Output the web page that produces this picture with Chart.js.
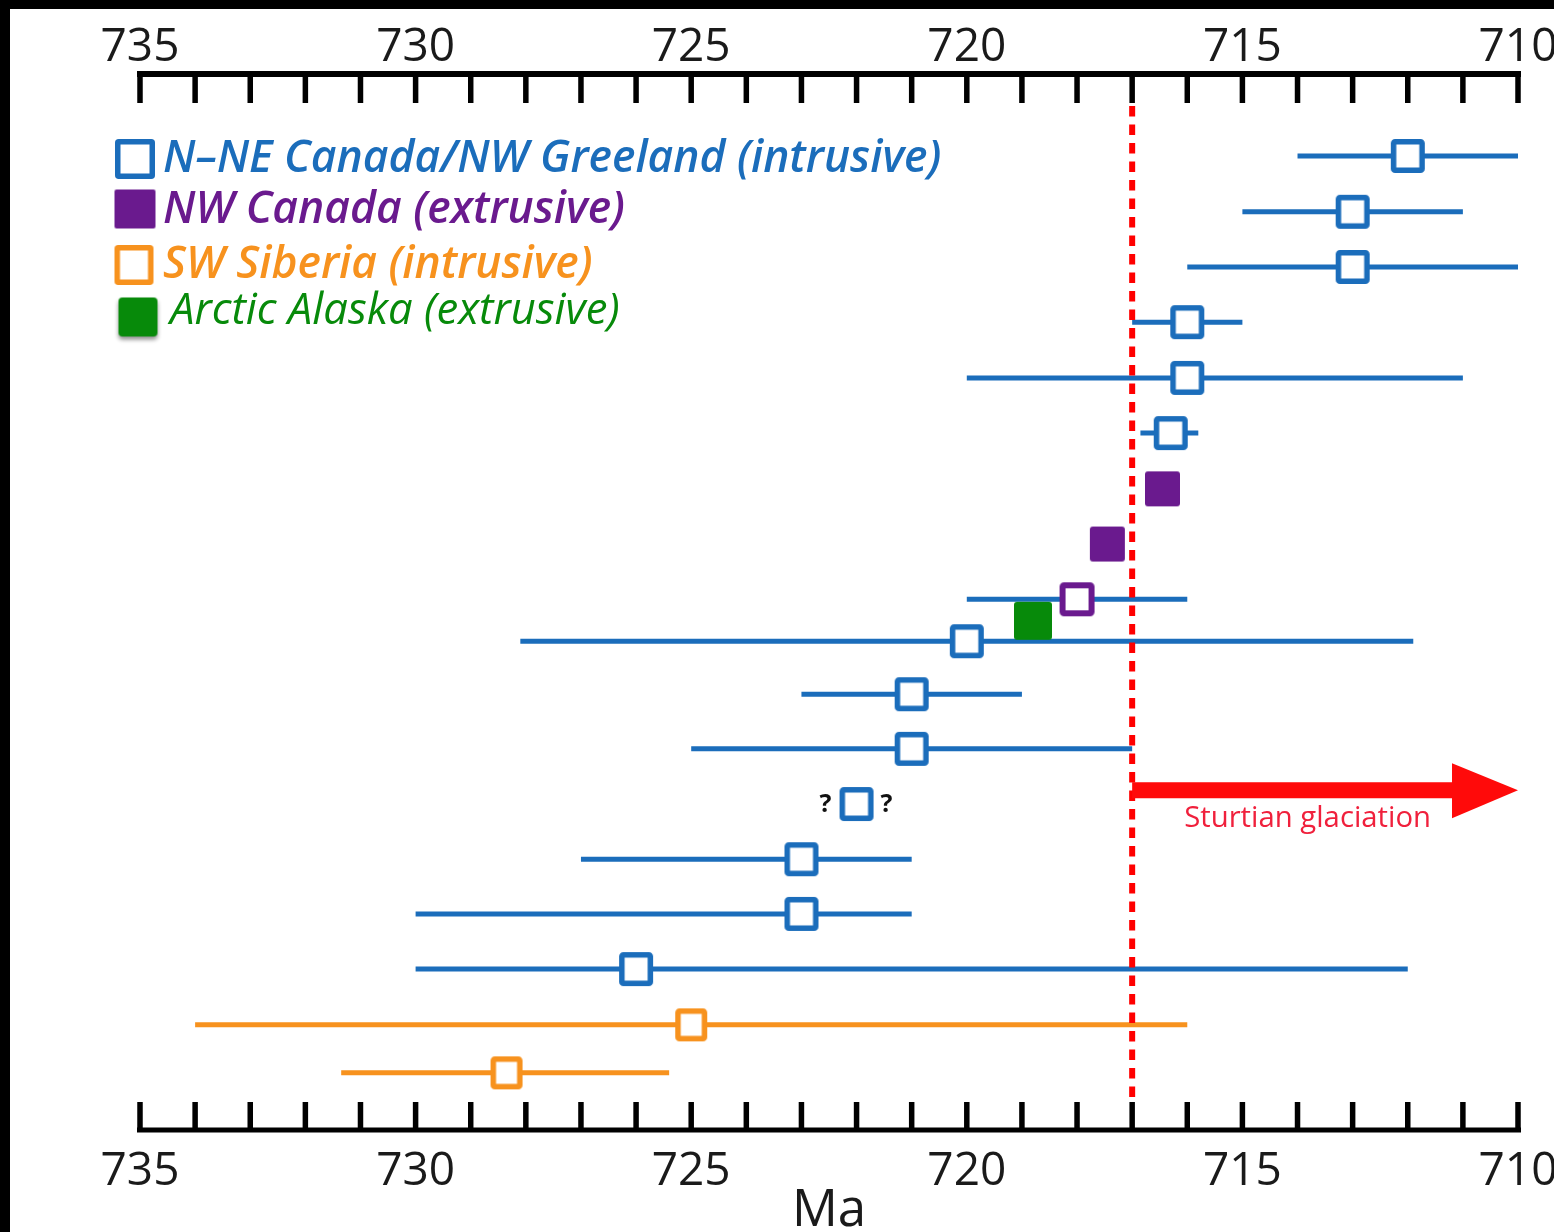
<!DOCTYPE html>
<html><head><meta charset="utf-8">
<script src="https://cdn.jsdelivr.net/npm/chart.js@4/dist/chart.umd.min.js"></script>
<style>
html,body{margin:0;padding:0;background:#000;width:1554px;height:1232px;overflow:hidden}
#wrap{position:absolute;left:10px;top:9px;width:1544px;height:1223px;background:#fff}
canvas{display:block}
</style></head><body><div id="wrap"><canvas id="c" width="1544" height="1223"></canvas></div>
<script>
// ---------- DATA (ages in Ma; rows counted from top) ----------
const tickLabels = [735, 730, 725, 720, 715, 710];
const axisTitle = 'Ma';

// N–NE Canada / NW Greenland (intrusive)
const canadaGreenlandAge   = [712.0, 713.0, 713.0, 716.0, 716.0, 716.3, 720.0, 721.0, 721.0, 722.0, 723.0, 723.0, 726.0];
const canadaGreenlandRow   = [1, 2.01, 3.01, 4.01, 5.02, 6.02, 9.79, 10.75, 11.74, 12.74, 13.74, 14.73, 15.73];
const canadaGreenlandYoung = [710.0, 711.0, 710.0, 715.0, 711.0, 715.8, 711.9, 719.0, 717.0, null, 721.0, 721.0, 712.0];
const canadaGreenlandOld   = [714.0, 715.0, 716.0, 717.0, 720.0, 716.85, 728.1, 723.0, 725.0, null, 727.0, 730.0, 730.0];
const uncertainRow = 12.74; // the "? ?" date

// NW Canada (extrusive)
const nwCanadaFilledAge = [716.45, 717.45];
const nwCanadaFilledRow = [7.03, 8.03];
const nwCanadaOpenAge   = [718.0];
const nwCanadaOpenRow   = [9.03];
const nwCanadaOpenYoung = [716.0];
const nwCanadaOpenOld   = [720.0];

// SW Siberia (intrusive)
const siberiaAge   = [725.0, 728.35];
const siberiaRow   = [16.74, 17.61];
const siberiaYoung = [716.0, 725.4];
const siberiaOld   = [734.0, 731.35];

// Arctic Alaska (extrusive)
const alaskaAge = [718.8];
const alaskaRow = [9.42];

// Sturtian glaciation onset
const sturtianOnset = 717.0;
const sturtianEnd = 710.0;
const sturtianRow = 12.49;
const sturtianLabel = 'Sturtian glaciation';

const legendItems = [
  {text: 'N\u2013NE Canada/NW Greeland (intrusive)', key: 'blue'},
  {text: 'NW Canada (extrusive)', key: 'purple'},
  {text: 'SW Siberia (intrusive)', key: 'orange'},
  {text: 'Arctic Alaska (extrusive)', key: 'green'}
];

// ---------- STYLE ----------
const BLUE = '#1b6dbb', PURPLE = '#6a1a8e', ORANGE = '#f7921e', GREEN = '#078a0a', RED = '#ff0a0a', TEXTRED = '#f0203c';

function marker(w, h, stroke, fill, lw, r, shadow) {
  const pad = shadow ? 8 : 3;
  const c = document.createElement('canvas');
  c.width = w + pad * 2; c.height = h + pad * 2;
  const g = c.getContext('2d');
  if (shadow) { g.shadowColor = 'rgba(0,0,0,0.45)'; g.shadowBlur = 4; g.shadowOffsetY = 3; }
  const x = pad + lw / 2, y = pad + lw / 2, ww = w - lw, hh = h - lw;
  g.beginPath();
  if (g.roundRect) g.roundRect(x, y, ww, hh, r); else g.rect(x, y, ww, hh);
  if (fill) { g.fillStyle = fill; g.fill(); }
  g.shadowColor = 'transparent';
  if (stroke) { g.strokeStyle = stroke; g.lineWidth = lw; g.stroke(); }
  return c;
}
const mBlue = marker(34, 34, BLUE, '#fff', 5.5, 1.5);
const mPurpleOpen = marker(35, 34, PURPLE, '#fff', 6, 1.5);
const mPurpleFilled = marker(35, 35, null, PURPLE, 0, 3);
const mOrange = marker(32, 33, ORANGE, '#fff', 5.5, 1.5);
const mGreen = marker(38, 38, null, GREEN, 0, 3);
const lBlue = marker(40, 40, BLUE, '#fff', 5.5, 1);
const lPurple = marker(41, 39, null, PURPLE, 0, 2);
const lOrange = marker(39, 40, ORANGE, '#fff', 5.5, 1);
const lGreen = marker(39, 39, null, GREEN, 0, 4, true);
const legendMarkers = {blue: lBlue, purple: lPurple, orange: lOrange, green: lGreen};
const legendColors = {blue: BLUE, purple: PURPLE, orange: ORANGE, green: GREEN};

function pts(ages, rows) { return ages.map((a, i) => ({x: a, y: rows[i]})); }
function ranges(young, old, rows) {
  const out = [];
  young.forEach((y, i) => {
    if (y === null) return;
    out.push({x: old[i], y: rows[i]}, {x: y, y: rows[i]}, {x: null, y: null});
  });
  return out;
}

const decor = {
  id: 'decor',
  afterDraw(chart) {
    const ctx = chart.ctx, xs = chart.scales.x, ys = chart.scales.y, a = chart.chartArea;
    ctx.save();
    // axes: lines with inward ticks
    const xL = xs.getPixelForValue(735), xR = xs.getPixelForValue(710);
    ctx.strokeStyle = '#000'; ctx.lineCap = 'butt';
    ctx.lineWidth = 6;
    ctx.beginPath(); ctx.moveTo(xL - 3, a.top); ctx.lineTo(xR + 3, a.top); ctx.stroke();
    ctx.lineWidth = 5;
    ctx.beginPath(); ctx.moveTo(xL - 3, a.bottom); ctx.lineTo(xR + 3, a.bottom); ctx.stroke();
    ctx.lineWidth = 5.5;
    for (let v = 710; v <= 735; v++) {
      const px = xs.getPixelForValue(v);
      ctx.beginPath(); ctx.moveTo(px, a.top); ctx.lineTo(px, a.top + 29); ctx.stroke();
      ctx.beginPath(); ctx.moveTo(px, a.bottom); ctx.lineTo(px, a.bottom - 28); ctx.stroke();
    }
    // Sturtian dashed line
    const xg = xs.getPixelForValue(sturtianOnset);
    ctx.strokeStyle = '#ff0000'; ctx.lineWidth = 6; ctx.setLineDash([10.5, 8]);
    ctx.beginPath(); ctx.moveTo(xg, a.top + 32); ctx.lineTo(xg, a.bottom - 30); ctx.stroke();
    ctx.setLineDash([]);
    // arrow
    const ya = ys.getPixelForValue(sturtianRow), xe = xs.getPixelForValue(sturtianEnd);
    ctx.fillStyle = RED;
    ctx.fillRect(xg, ya - 8, xe - 66 - xg + 2, 16);
    ctx.beginPath(); ctx.moveTo(xe - 66, ya - 27); ctx.lineTo(xe, ya); ctx.lineTo(xe - 66, ya + 28); ctx.closePath(); ctx.fill();
    ctx.fillStyle = TEXTRED; ctx.font = '500 29.3px "Open Sans"'; ctx.textAlign = 'left'; ctx.textBaseline = 'alphabetic';
    ctx.fillText(sturtianLabel, xg + 52, ya + 37);
    // question marks
    const xq = xs.getPixelForValue(canadaGreenlandAge[9]), yq = ys.getPixelForValue(uncertainRow);
    ctx.fillStyle = '#111'; ctx.font = 'bold 25px "Open Sans"'; ctx.textAlign = 'center'; ctx.textBaseline = 'middle';
    ctx.fillText('?', xq - 31, yq + 1); ctx.fillText('?', xq + 30, yq + 1);
    // legend
    const legY = [150, 201, 256, 303], legMx = [125, 125, 124, 128], legMy = [150, 200, 256, 308], legTx = [153, 153, 153, 160];
    legendItems.forEach((it, i) => {
      const m = legendMarkers[it.key];
      ctx.drawImage(m, legMx[i] - m.width / 2, legMy[i] - m.height / 2);
      ctx.fillStyle = legendColors[it.key];
      ctx.font = it.key === 'green' ? 'italic 400 43.6px "Open Sans"' : 'italic 600 44.4px "Open Sans"';
      ctx.textAlign = 'left'; ctx.textBaseline = 'middle';
      ctx.fillText(it.text, legTx[i], legY[i]);
    });
    ctx.restore();
  }
};

function fixAxis(h) {
  return function (s) { s.height = h; s.paddingLeft = 0; s.paddingRight = 0; };
}
function setTicks(s) { s.ticks = tickLabels.map(v => ({value: v})); }

function build() {
  new Chart(document.getElementById('c'), {
    type: 'scatter',
    data: {
      datasets: [
        {data: pts(alaskaAge, alaskaRow), pointStyle: mGreen, pointRadius: 12, order: 1},
        {data: pts(nwCanadaFilledAge, nwCanadaFilledRow), pointStyle: mPurpleFilled, pointRadius: 12, order: 1},
        {data: pts(nwCanadaOpenAge, nwCanadaOpenRow), pointStyle: mPurpleOpen, pointRadius: 12, order: 1},
        {data: pts(siberiaAge, siberiaRow), pointStyle: mOrange, pointRadius: 12, order: 1},
        {data: pts(canadaGreenlandAge, canadaGreenlandRow), pointStyle: mBlue, pointRadius: 12, order: 1},
        {data: ranges(canadaGreenlandYoung, canadaGreenlandOld, canadaGreenlandRow).concat(ranges(nwCanadaOpenYoung, nwCanadaOpenOld, nwCanadaOpenRow)),
         showLine: true, spanGaps: false, borderColor: BLUE, borderWidth: 5, pointRadius: 0, order: 2},
        {data: ranges(siberiaYoung, siberiaOld, siberiaRow), showLine: true, spanGaps: false, borderColor: ORANGE, borderWidth: 5, pointRadius: 0, order: 2}
      ]
    },
    options: {
      responsive: false, animation: false, devicePixelRatio: 1,
      layout: {padding: {left: 130, right: 36, top: 0, bottom: 0}},
      plugins: {legend: {display: false}, tooltip: {enabled: false}},
      scales: {
        x: {
          type: 'linear', position: 'bottom', min: 710, max: 735, reverse: true,
          grid: {display: false, drawTicks: false}, border: {display: false},
          afterBuildTicks: setTicks, afterFit: fixAxis(102),
          ticks: {padding: 19, autoSkip: false, maxRotation: 0, color: '#1a1a1a', font: {family: 'Open Sans', size: 46, lineHeight: 1}, callback: v => String(v)},
          title: {display: true, text: axisTitle, color: '#1a1a1a', font: {family: 'Open Sans', size: 51, lineHeight: 0.8}, padding: {top: 0, bottom: 0}}
        },
        xTop: {
          type: 'linear', position: 'top', min: 710, max: 735, reverse: true,
          grid: {display: false, drawTicks: false}, border: {display: false},
          afterBuildTicks: setTicks, afterFit: fixAxis(65),
          ticks: {padding: 3, autoSkip: false, maxRotation: 0, color: '#1a1a1a', font: {family: 'Open Sans', size: 46, lineHeight: 1}, callback: v => String(v)}
        },
        y: {type: 'linear', display: false, reverse: true, min: -0.4855, max: 18.645}
      }
    },
    plugins: [decor]
  });
}
const fl = [document.fonts.load('46px "Open Sans"'), document.fonts.load('italic 600 42px "Open Sans"'), document.fonts.load('italic 400 42px "Open Sans"'), document.fonts.load('bold 22px "Open Sans"')];
Promise.all(fl).then(build, build);
</script></body></html>
